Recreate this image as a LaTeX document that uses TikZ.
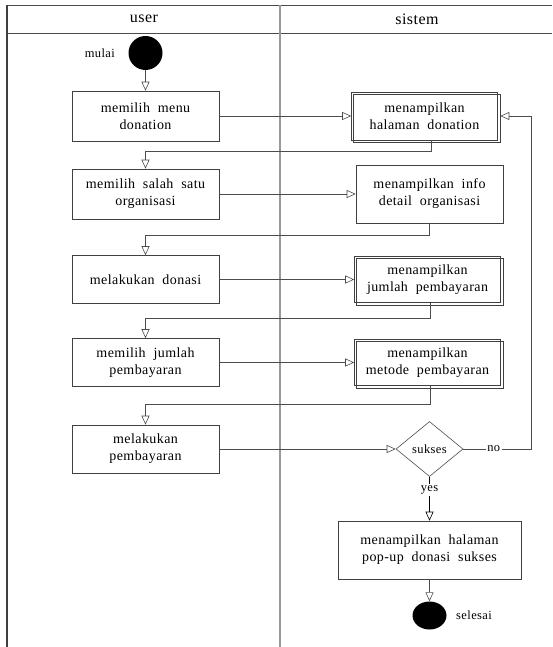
\documentclass[tikz,border=0pt]{standalone}
\usepackage{fontspec}
\setmainfont{Liberation Serif}[LetterSpace=3,WordSpace=2]
\usetikzlibrary{arrows.meta,shapes.geometric}

\begin{document}
\begin{tikzpicture}[x=1pt,y=-1pt,
  lane/.style={draw=black!70, line width=0.8pt},
  act/.style={draw=black!75, line width=0.6pt, rectangle, inner sep=0pt,
    align=center, font=\fontsize{14}{17}\selectfont},
  backline/.style={draw=black!75, line width=0.6pt},
  small/.style={font=\fontsize{12.5}{15}\selectfont},
  flow/.style={draw=black!70, line width=0.6pt,
    -{Triangle[open, length=9pt, width=8pt, line width=0.6pt]}},
]
\useasboundingbox (0,0) rectangle (552,647);

% swimlane frame
\draw[lane] (7,5) -- (552,5);
\draw[lane] (7,33) -- (552,33);
\draw[draw=black!75, line width=1.4pt] (7,5) -- (7,647);
\draw[draw=black!40, line width=1.3pt] (280,5) -- (280,647);
\node[font=\fontsize{16}{19}\selectfont] (huser) at (144,19) {user};
\node[font=\fontsize{16}{19}\selectfont] (hsys) at (417,19) {sistem};

% start
\node[circle, fill=black, minimum size=34pt, inner sep=0pt] (start) at (145.5,53) {};
\node[small, anchor=east] (mulai) at ([xshift=-10pt]start.west) {mulai};

% user lane
\node[act, minimum width=147pt, minimum height=50pt] (u1) at (145.5,116) {memilih menu\\donation};
\node[act, minimum width=147pt, minimum height=50pt] (u2) at (145.5,194) {memilih salah satu\\organisasi};
\node[act, minimum width=147pt, minimum height=48pt] (u3) at (145.5,279.5) {melakukan donasi};
\node[act, minimum width=147pt, minimum height=48pt] (u4) at (145.5,362.5) {memilih jumlah\\pembayaran};
\node[act, minimum width=147pt, minimum height=48pt] (u5) at (145.5,449) {melakukan\\pembayaran};

% system lane
\node[act, minimum width=146pt, minimum height=48pt] (s1) at (424.5,116) {menampilkan\\halaman donation};
\node[act, minimum width=147pt, minimum height=58pt] (s2) at (429.5,194) {menampilkan info\\detail organisasi};
\node[act, minimum width=146pt, minimum height=46pt] (s3) at (427.5,279.5) {menampilkan\\jumlah pembayaran};
\node[act, minimum width=146pt, minimum height=46pt] (s4) at (427.5,362.5) {menampilkan\\metode pembayaran};
\node[diamond, draw=black!70, line width=0.6pt, inner sep=0pt, minimum width=67pt,
  minimum height=55pt, small] (dec) at (429.5,449) {sukses};
\node[act, minimum width=183pt, minimum height=58pt] (s5) at (429.5,550) {menampilkan halaman\\pop-up donasi sukses};

% offset second outline of the sub-activity boxes
\foreach \n in {s1,s3,s4}
  \draw[backline] ([shift={(2.5pt,-2.5pt)}]\n.north west) rectangle ([shift={(2.5pt,-2.5pt)}]\n.south east);

% end
\node[ellipse, fill=black, minimum width=34pt, minimum height=28pt, inner sep=0pt] (stop) at (429.5,615.5) {};
\node[small, anchor=west] (selesai) at ([xshift=6pt]stop.east) {selesai};

% flows
\draw[flow] (start) -- (u1);
\draw[flow] (u1.east) -- (s1.west);
\draw[flow] ([xshift=6.5pt]s1.south) -- ++(0,11) -| (u2.north);
\draw[flow] (u2.east) -- (s2.west);
\draw[flow] (s2.south) -- ++(0,12) -| (u3.north);
\draw[flow] (u3.east) -- (s3.west);
\draw[flow] ([xshift=2.5pt]s3.south) -- ++(0,15) -| (u4.north);
\draw[flow] (u4.east) -- (s4.west);
\draw[flow] ([xshift=2.5pt]s4.south) -- ++(0,18) -| (u5.north);
\draw[flow] (u5.east) -- (dec.west);

\coordinate (loop) at (531,449);
\draw[flow] (dec.east) -- node[pos=0.45, fill=white, inner sep=1.5pt, small] (no) {no} (loop)
  |- ([xshift=2.5pt]s1.east);
\draw[flow, draw=black, line width=1pt] (dec.south) -- node[pos=0.3, fill=white, inner sep=1.5pt, small] (yes) {yes} (s5.north);
\draw[flow] (s5.south) -- (stop.north);
\end{tikzpicture}
\end{document}
